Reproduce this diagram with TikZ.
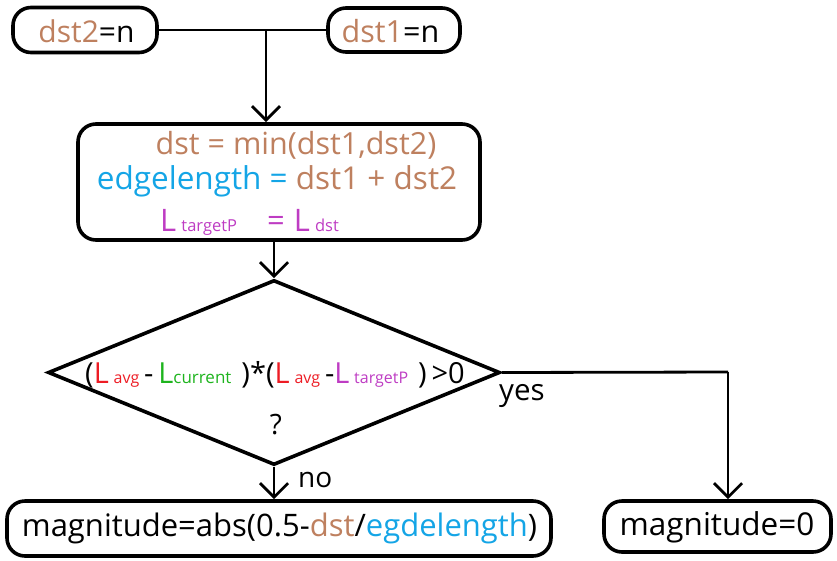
\documentclass[tikz,border=0pt]{standalone}
\usepackage{fontspec}
\setmainfont{Open Sans}
\usetikzlibrary{arrows.meta,shapes.geometric}
\definecolor{cbrown}{RGB}{190,128,95}
\definecolor{cblue}{RGB}{20,165,230}
\definecolor{cmag}{RGB}{190,60,195}
\definecolor{cred}{RGB}{237,28,36}
\definecolor{cgreen}{RGB}{30,180,30}
\newcommand{\fsz}[1]{\fontsize{#1}{#1}\selectfont}
\begin{document}
\begin{tikzpicture}[x=1pt,y=-1pt,
  box/.style={draw,line width=3.6pt,rounded corners=18pt,inner sep=0pt},
  txt/.style={inner sep=0pt,font=\fsz{31}},
  arr/.style={line width=2.8pt,-{Straight Barb[length=14pt,width=28pt,line width=2.8pt]}},
  ln/.style={line width=2.8pt}]
\useasboundingbox (0,0) rectangle (837,560);
\node[box,minimum width=144pt,minimum height=45pt] (b2) at (85,30) {};
\node[txt,font=\fsz{30}] (t2) at (86.5,31) {\textcolor{cbrown}{dst2}=n};
\node[box,minimum width=132pt,minimum height=44pt] (b1) at (394,30) {};
\node[txt,font=\fsz{30.5}] (t1) at (390.5,31) {\textcolor{cbrown}{dst1}=n};
\coordinate (j) at (266,30);
\draw[ln] (b2.east) -- (b1.west);
\node[box,minimum width=402pt,minimum height=116pt] (b3) at (279,182) {};
\draw[arr] (j) -- (j |- b3.north);
\node[txt,text=cbrown,font=\fsz{30.5}] (l1) at (296,145) {dst = min(dst1,dst2)};
\node[txt,font=\fsz{31.5}] (l2) at (277,181) {\textcolor{cblue}{edgelength =} \textcolor{cbrown}{dst1 + dst2}};
\node[txt,text=cmag,anchor=base west,font=\fsz{31}] (l3) at (160,231) {L\,{\fsz{16.5}targetP}\hspace{30pt}=\hspace{9pt}L\,{\fsz{16.5}dst}};
\node[draw,shape=diamond,line width=3.6pt,minimum width=452pt,minimum height=185pt,inner sep=0pt] (d) at (274,372.5) {};
\draw[arr] (274,241) -- (d.north);
\node[txt,anchor=base,font=\fsz{29}] (dt) at (275,383) {(\textcolor{cred}{L\,{\fsz{16}avg}}\,-\,\textcolor{cgreen}{L{\fsz{17}current}}\hspace{10pt})*(\textcolor{cred}{L\,{\fsz{16}avg}}\,-\textcolor{cmag}{L\,{\fsz{16}targetP}}\hspace{10pt})\,>0};
\node[txt,font=\fsz{28}] (q) at (276,425) {?};
\coordinate (c) at (728,372);
\node[box,minimum width=544pt,minimum height=55pt] (b4) at (279,528.5) {};
\node[txt] (t4) at (279.5,528) {magnitude=abs(0.5-\textcolor{cbrown}{dst}/\textcolor{cblue}{egdelength})};
\node[box,minimum width=227pt,minimum height=51pt] (b5) at (717.5,526.5) {};
\node[txt,font=\fsz{31.5}] (t5) at (717,527) {magnitude=0};
\draw[ln] (d.east) -- (c);
\draw[arr] (c) -- (c |- b5.north);
\draw[arr] (d.south) -- (d.south |- b4.north);
\node[txt,anchor=west,font=\fsz{29.5}] (yes) at (499,396) {yes};
\node[txt,anchor=west,font=\fsz{28}] (no) at (298,480) {no};
\end{tikzpicture}
\end{document}
